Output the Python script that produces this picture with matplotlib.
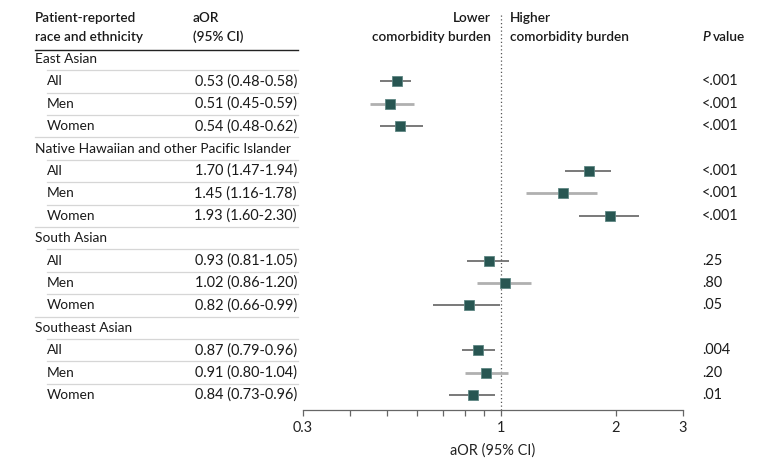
import matplotlib
matplotlib.use("Agg")
import matplotlib.pyplot as plt
from matplotlib.ticker import FixedLocator, NullFormatter, FixedFormatter

groups = ["East Asian", "Native Hawaiian and other Pacific Islander", "South Asian", "Southeast Asian"]
subgroups = ["All", "Men", "Women"]
aor = [[0.53, 0.51, 0.54], [1.70, 1.45, 1.93], [0.93, 1.02, 0.82], [0.87, 0.91, 0.84]]
lo = [[0.48, 0.45, 0.48], [1.47, 1.16, 1.60], [0.81, 0.86, 0.66], [0.79, 0.80, 0.73]]
hi = [[0.58, 0.59, 0.62], [1.94, 1.78, 2.30], [1.05, 1.20, 0.99], [0.96, 1.04, 0.96]]
pvals = [["<.001", "<.001", "<.001"], ["<.001", "<.001", "<.001"],
         [".25", ".80", ".05"], [".004", ".20", ".01"]]
major_ticks = [0.3, 1, 2, 3]
major_labels = ["0.3", "1", "2", "3"]
minor_ticks = [0.4, 0.5, 0.6, 0.7, 0.8, 0.9]

W, H = 780, 465
plt.rcParams['font.family'] = ['Lato', 'DejaVu Sans']
fig = plt.figure(figsize=(W / 100, H / 100), dpi=100)
renderer = fig.canvas.get_renderer()

def fit_size(s, target_px, **kw):
    probe = fig.text(0, 0, s, fontsize=10, **kw)
    w = probe.get_window_extent(renderer).width
    probe.remove()
    return 10 * target_px / w

fs = fit_size(groups[1], 256)                 # label text
fs_num = fit_size("0.53 (0.48-0.58)", 103)    # numeric column
fs_hdr = fit_size("Patient-reported", 101, fontweight="semibold")

row0_px, row_step = 59.0, 22.4
ax_left, ax_right = 302.7, 682.7
ax_top, ax_bot = 13.0, 409.5

def px2row(p):
    return (p - row0_px) / row_step

ov = fig.add_axes([0, 0, 1, 1])
ov.set_xlim(0, W)
ov.set_ylim(px2row(H), px2row(0))
ov.axis("off")

ax = fig.add_axes([ax_left / W, (H - ax_bot) / H, (ax_right - ax_left) / W, (ax_bot - ax_top) / H])
ax.set_xscale("log")
ax.set_xlim(major_ticks[0], major_ticks[-1])
ax.set_ylim(px2row(ax_bot), px2row(ax_top))
ax.patch.set_alpha(0)
for s in ["top", "right", "left"]:
    ax.spines[s].set_visible(False)
ax.spines["bottom"].set_color("#666666")
ax.spines["bottom"].set_linewidth(0.9)
ax.set_yticks([])
ax.xaxis.set_major_locator(FixedLocator(major_ticks))
ax.xaxis.set_major_formatter(FixedFormatter(major_labels))
ax.xaxis.set_minor_locator(FixedLocator(minor_ticks))
ax.xaxis.set_minor_formatter(NullFormatter())
ax.tick_params(axis="x", which="both", direction="out", length=4.5, width=0.9,
               color="#666666", labelsize=fs_num, labelcolor="#222222", pad=4)
ax.set_xlabel("aOR (95% CI)", fontsize=fs_num, color="#222222", labelpad=6)
ax.axvline(1, color="#555555", lw=0.9, ls=(0, (1, 2)), zorder=1)

txt = "#1a1a1a"
hw = "semibold"
sep_col = "#d6d6d6"

def hdr(x, y, s, ha="left", **kw):
    return ov.text(x, px2row(y), s, fontsize=fs_hdr, fontweight=hw, color=txt, va="center", ha=ha, **kw)

hdr(35, 18, "Patient-reported")
hdr(35, 37, "race and ethnicity")
hdr(193, 18, "aOR")
hdr(193, 37, "(95% CI)")
hdr(491, 18, "Lower", ha="right")
hdr(491, 37, "comorbidity burden", ha="right")
hdr(510, 18, "Higher")
hdr(510, 37, "comorbidity burden")
pt = hdr(702, 37, "P", fontstyle="italic")
pw = pt.get_window_extent(renderer).width
hdr(702 + pw + 0.28 * fs_hdr, 37, "value")
ov.plot([35, 298], [px2row(49.5)] * 2, color="#222222", lw=1.0)

r = 0
for gi, g in enumerate(groups):
    ov.text(35, r, g, fontsize=fs, color=txt, va="center")
    ov.plot([47, 298], [r + 0.5] * 2, color=sep_col, lw=0.9)
    r += 1
    for si, sg in enumerate(subgroups):
        ov.text(47, r, sg, fontsize=fs, color=txt, va="center")
        ov.text(297, r, f"{aor[gi][si]:.2f} ({lo[gi][si]:.2f}-{hi[gi][si]:.2f})",
                fontsize=fs_num, color=txt, va="center", ha="right")
        ov.text(702, r, pvals[gi][si], fontsize=fs_num, color=txt, va="center", ha="left")
        if si < len(subgroups) - 1:
            ov.plot([47, 298], [r + 0.5] * 2, color=sep_col, lw=0.9)
        elif gi < len(groups) - 1:
            ov.plot([35, 298], [r + 0.5] * 2, color=sep_col, lw=0.9)
        is_men = sg == "Men"
        ax.plot([lo[gi][si], hi[gi][si]], [r, r],
                color="#b0b0b0" if is_men else "#555555",
                lw=2.0 if is_men else 1.1, solid_capstyle="butt", zorder=2)
        ax.plot([aor[gi][si]], [r], marker="s", ms=7, color="#285652",
                mec="#5f8784", mew=0.6, zorder=3)
        r += 1

fig.savefig("out.png", dpi=100)
